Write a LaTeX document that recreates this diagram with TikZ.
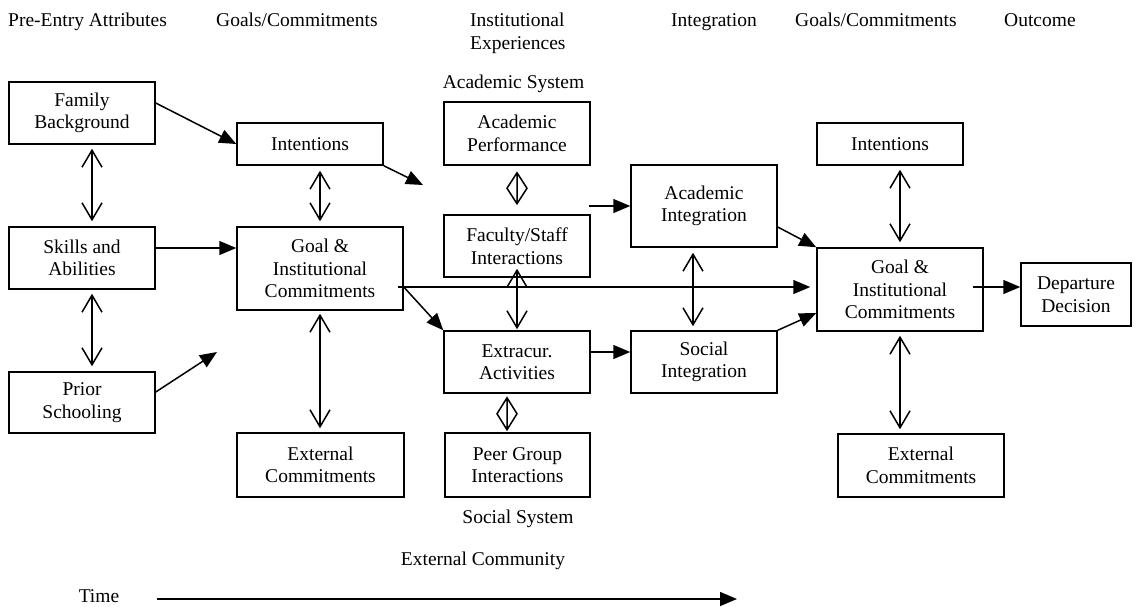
\documentclass[tikz,border=0pt]{standalone}
\usepackage{fontspec}
\setmainfont{Liberation Serif}
\usetikzlibrary{arrows.meta}
\begin{document}
\begin{tikzpicture}[x=1pt,y=-1pt,
  every node/.style={font=\fontsize{19.5}{22.5}\selectfont},
  box/.style={draw, line width=1.5pt, inner sep=0pt, align=center},
  tri/.style={line width=1.5pt, -{Triangle[length=17pt,width=14pt]}},
  dbl/.style={line width=1.5pt, {Straight Barb[length=17pt,width=20pt,line width=1.5pt]}-{Straight Barb[length=17pt,width=20pt,line width=1.5pt]}},
  lbl/.style={anchor=base, inner sep=0pt},
  hdr/.style={anchor=base west, inner sep=0pt, align=left}]
\useasboundingbox (0,0) rectangle (1136,606);

% header
\node[hdr] (h1) at (8,26.5) {Pre-Entry Attributes};
\node[hdr] (h2) at (216,26.5) {Goals/Commitments};
\node[hdr] (h3) at (470,26.5) {Institutional};
\node[hdr] (h3b) at (470,49.5) {Experiences};
\node[hdr] (h4) at (671,26.5) {Integration};
\node[hdr] (h5) at (795,26.5) {Goals/Commitments};
\node[hdr] (h6) at (1004,26.5) {Outcome};

% boxes
\node[box, minimum width=146pt, minimum height=62pt] (fam) at (82,113) {Family\\Background};
\node[box, minimum width=146pt, minimum height=62pt] (skl) at (82,258) {Skills and\\Abilities};
\node[box, minimum width=146pt, minimum height=61pt] (pri) at (82,402.5) {Prior\\Schooling};
\node[box, minimum width=146pt, minimum height=42pt] (int1) at (310,144) {Intentions};
\node[box, minimum width=166pt, minimum height=83pt] (goal1) at (320,268.5) {Goal \&\\Institutional\\Commitments};
\node[box, minimum width=167pt, minimum height=64pt] (ext1) at (320.5,465) {External\\Commitments};
\node[box, minimum width=146pt, minimum height=63pt] (ap) at (517,133.5) {Academic\\Performance};
\node[box, minimum width=146pt, minimum height=62pt] (fs) at (517,246) {Faculty/Staff\\Interactions};
\node[box, minimum width=146pt, minimum height=62pt] (ec) at (517,362) {Extracur.\\Activities};
\node[box, minimum width=145pt, minimum height=64pt] (pg) at (517.5,465) {Peer Group\\Interactions};
\node[box, minimum width=146pt, minimum height=82pt] (ai) at (704,206) {Academic\\Integration};
\node[box, minimum width=146pt, minimum height=62pt] (si) at (704,362) {Social\\Integration};
\node[box, minimum width=146pt, minimum height=42pt] (int2) at (890,144) {Intentions};
\node[box, minimum width=166pt, minimum height=83pt] (goal2) at (900,289.5) {Goal \&\\Institutional\\Commitments};
\node[box, minimum width=110pt, minimum height=63pt] (dep) at (1076,294.5) {Departure\\Decision};
\node[box, minimum width=166pt, minimum height=63pt] (ext2) at (921,465.5) {External\\Commitments};

% labels
\node[lbl] (as) at (513.5,88) {Academic System};
\node[lbl] (ss) at (518,523) {Social System};
\node[lbl] (exc) at (483,565) {External Community};
\node[lbl] (time) at (99,602) {Time};

% free ends
\coordinate (c1) at (423,185);
\coordinate (c2) at (217,352);
\coordinate (c3) at (589,206);
\coordinate (t1) at (157,599);
\coordinate (t2) at (737,599);

% connectors
\draw[tri] ([yshift=10pt]fam.east) -- (int1.west);
\draw[tri] (int1.south east) -- (c1);
\draw[dbl, shorten <=4pt, shorten >=5pt] ([xshift=10pt]fam.south) -- ([xshift=10pt]skl.north);
\draw[dbl, shorten <=4pt, shorten >=5pt] ([xshift=10pt]skl.south) -- ([xshift=10pt]pri.north);
\draw[tri] ([yshift=10pt]skl.east) -- ([yshift=10pt]skl.east -| goal1.west);
\draw[tri] ([yshift=10.5pt]pri.east) -- (c2);
\draw[dbl, shorten <=5pt, shorten >=5pt] (int1.south -| goal1.north) -- (goal1.north);
\draw[dbl, shorten <=3pt, shorten >=4pt] (goal1.south) -- (ext1.north -| goal1.south);
\draw[tri, shorten >=6pt] ([xshift=-6pt,yshift=-18.5pt]goal1.east) -- ([yshift=-18.5pt]goal1.east -| goal2.west);
\draw[tri] ([yshift=-18.5pt]goal1.east) -- (ec.north west);
\draw[tri] (c3) -- (ai.west);
\draw[tri] ([yshift=-21pt]ai.east) -- (goal2.north west);
\draw[dbl, shorten >=1pt] ([yshift=9pt]fs.south) -- (ec.north);
\draw[tri] ([yshift=10pt]ec.east) -- ([yshift=10pt]ec.east -| si.west);
\draw[dbl, shorten <=5pt, shorten >=4pt] ([xshift=-11pt]ai.south) -- ([xshift=-11pt]si.north);
\draw[tri] (si.north east) -- ([yshift=-23.5pt]goal2.west);
\draw[dbl, shorten <=4pt, shorten >=5pt] (int2.south -| goal2.north) -- (goal2.north);
\draw[dbl, shorten <=4pt, shorten >=4pt] (goal2.south) -- (ext2.north -| goal2.south);
\draw[tri] ([xshift=-11pt,yshift=2.5pt]goal2.east) -- ([yshift=2.5pt]goal2.east -| dep.west);
\draw[tri] (t1) -- (t2);

% diamonds
\draw[line width=1.5pt, line join=miter]
  ([yshift=-7pt]ap.south) -- ++(10,15.5) -- ++(-10,15.5) -- ++(-10,-15.5) -- cycle
  ([yshift=-7pt]ap.south) -- ++(0,31);
\draw[line width=1.5pt, line join=miter]
  ([xshift=-10pt,yshift=-4pt]ec.south) -- ++(10,16) -- ++(-10,16) -- ++(-10,-16) -- cycle
  ([xshift=-10pt,yshift=-4pt]ec.south) -- ++(0,32);
\end{tikzpicture}
\end{document}
